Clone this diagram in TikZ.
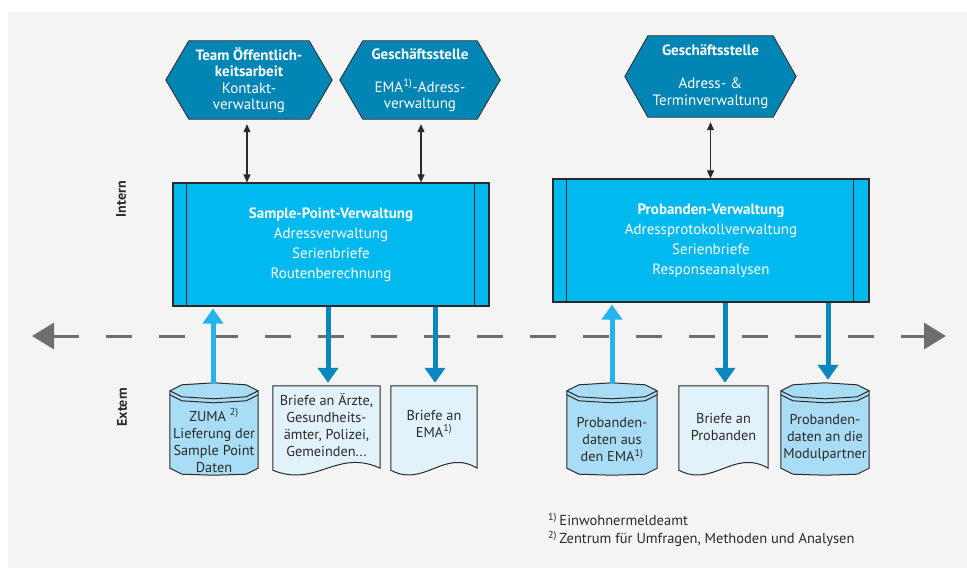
\documentclass[tikz,border=0pt]{standalone}
\usepackage{fontspec}
\setmainfont{PT Sans}
\usetikzlibrary{arrows.meta,calc,backgrounds}

\definecolor{bggray}{HTML}{F4F4F4}
\definecolor{hexblue}{HTML}{0085B5}
\definecolor{procblue}{HTML}{00B9EF}
\definecolor{upblue}{HTML}{22B4EA}
\definecolor{downblue}{HTML}{0A87BE}
\definecolor{cylblue}{HTML}{A8DDF5}
\definecolor{docblue}{HTML}{E1F2FB}
\definecolor{inkdark}{HTML}{2B2A29}
\definecolor{dashgray}{HTML}{6D6E71}

\tikzset{
  hexnode/.style={inner sep=0pt, text=white, align=center, font=\fontsize{15}{16.5}\selectfont},
  hexshape/.style={fill=hexblue, draw=inkdark, line width=0.8pt},
  procbox/.style={draw=inkdark, fill=procblue, line width=1.2pt, text=white, align=center,
                  font=\fontsize{15}{20}\selectfont, inner sep=0pt},
  procline/.style={draw=inkdark, line width=1pt},
  holder/.style={inner sep=0pt, draw=none},
  btext/.style={text=inkdark, align=center, font=\fontsize{14.3}{17}\selectfont, inner sep=0pt},
  shapeline/.style={draw=inkdark, line width=1pt},
  dblarrow/.style={draw=inkdark, line width=1.1pt, shorten <=5pt,
                   {Triangle[width=7pt,length=8pt]}-{Triangle[width=7pt,length=8pt]}},
  uparrow/.style={draw=upblue, line width=5pt, shorten >=2pt, -{Triangle[width=20pt,length=15pt]}},
  downarrow/.style={draw=downblue, line width=5pt, shorten >=3pt, -{Triangle[width=20pt,length=15pt]}},
  dashline/.style={draw=dashgray, line width=3pt, dash pattern=on 26pt off 27pt,
                   {Triangle[length=22pt,width=26pt]}-{Triangle[length=22pt,width=26pt]}},
  sidelabel/.style={rotate=90, text=inkdark, inner sep=0pt, font=\bfseries\fontsize{14}{16}\selectfont},
  fnote/.style={text=inkdark, align=left, inner sep=0pt, font=\fontsize{14.5}{18}\selectfont},
}

% elongated hexagon around a holder node
\newcommand\hexpath[1]{%
  \filldraw[hexshape] (#1.west) -- ($(#1.north west)+(23,0)$) -- ($(#1.north east)+(-23,0)$)
    -- (#1.east) -- ($(#1.south east)+(-23,0)$) -- ($(#1.south west)+(23,0)$) -- cycle;}

% data store drawn as a faceted cylinder
\newcommand\cylpath[1]{%
  \filldraw[fill=cylblue, shapeline]
    ($(#1.north west)+(0,8)$) -- ($(#1.north west)+(12,2)$) -- (#1.north)
    -- ($(#1.north east)+(-12,2)$) -- ($(#1.north east)+(0,8)$)
    -- ($(#1.south east)+(0,-7)$) -- ($(#1.south east)+(-12,-1)$) -- (#1.south)
    -- ($(#1.south west)+(12,-1)$) -- ($(#1.south west)+(0,-7)$) -- cycle;
  \draw[shapeline] ($(#1.north west)+(0,8)$) -- ($(#1.north west)+(12,14)$) -- ($(#1.north)+(0,16)$)
    -- ($(#1.north east)+(-12,14)$) -- ($(#1.north east)+(0,8)$);
  \draw[shapeline] ($(#1.north west)+(0,12)$) -- ($(#1.north west)+(12,18)$) -- ($(#1.north)+(0,20)$)
    -- ($(#1.north east)+(-12,18)$) -- ($(#1.north east)+(0,12)$);}

% document with a wavy lower edge
\newcommand\docpath[1]{%
  \filldraw[fill=docblue, shapeline] (#1.north west) -- (#1.north east) -- ($(#1.south east)+(0,-2)$)
    .. controls ($(#1.south)+(10,-22)$) and ($(#1.south)+(-10,18)$) .. (#1.south west) -- cycle;}

\begin{document}
\begin{tikzpicture}[x=1pt,y=-1pt]
\useasboundingbox (0,0) rectangle (967,568);

% management units
\node[hexnode, minimum width=166pt, minimum height=78pt] (team) at (249,80)
  {\textbf{Team Öffentlich-}\\\textbf{keitsarbeit}\\Kontakt-\\verwaltung};
\node[hexnode, minimum width=160pt, minimum height=78pt] (gs1) at (420,80)
  {\textbf{Geschäftsstelle}\\[16.5pt]EMA\textsuperscript{1)}-Adress-\\verwaltung};
\node[hexnode, minimum width=171pt, minimum height=81pt] (gs2) at (710.5,76.5)
  {\textbf{Geschäftsstelle}\\[16.5pt]Adress- \&\\Terminverwaltung};

% processes
\node[procbox, minimum width=316pt, minimum height=123pt] (spv) at (331,244.5)
  {\textbf{Sample-Point-Verwaltung}\\Adressverwaltung\\Serienbriefe\\Routenberechnung};
\node[procbox, minimum width=316pt, minimum height=123pt] (pv) at (711,240.5)
  {\textbf{Probanden-Verwaltung}\\Adressprotokollverwaltung\\Serienbriefe\\Responseanalysen};
\draw[procline] ($(spv.north west)+(14,0)$) -- ($(spv.south west)+(14,0)$);
\draw[procline] ($(spv.north east)+(-15,0)$) -- ($(spv.south east)+(-15,0)$);
\draw[procline] ($(pv.north west)+(14,0)$) -- ($(pv.south west)+(14,0)$);
\draw[procline] ($(pv.north east)+(-16,0)$) -- ($(pv.south east)+(-16,0)$);

% external stores and documents
\node[holder, minimum width=88pt, minimum height=92pt] (zuma) at (214,429) {};
\node[holder, minimum width=107pt, minimum height=84pt] (aerzte) at (326.5,428) {};
\node[holder, minimum width=86pt, minimum height=84pt] (emabrief) at (434,428) {};
\node[holder, minimum width=90pt, minimum height=92pt] (probaus) at (612,429) {};
\node[holder, minimum width=89pt, minimum height=84pt] (probbrief) at (723.5,428) {};
\node[holder, minimum width=88pt, minimum height=92pt] (modul) at (825,429) {};

\node[btext] (zumat) at (214,440.5) {ZUMA \textsuperscript{2)}\\Lieferung der\\Sample Point\\Daten};
\node[btext] (aerztet) at (326.5,425.5) {Briefe an Ärzte,\\Gesundheits-\\ämter, Polizei,\\Gemeinden...};
\node[btext] (emabrieft) at (434,423.5) {Briefe an\\EMA\textsuperscript{1)}};
\node[btext] (probaust) at (612,439.5) {Probanden-\\daten aus\\den EMA\textsuperscript{1)}};
\node[btext] (probbrieft) at (723.5,427.5) {Briefe an\\Probanden};
\node[btext] (modult) at (825,438) {Probanden-\\daten an die\\Modulpartner};

% side labels
\node[sidelabel] (intern) at (121,199) {Intern};
\node[sidelabel] (extern) at (122,407) {Extern};

% footnotes
\node[fnote, anchor=west] (fn) at (548,530)
  {\textsuperscript{1)}\,Einwohnermeldeamt\\\textsuperscript{2)}\,Zentrum für Umfragen, Methoden und Analysen};

% shapes behind the texts
\begin{scope}[on background layer]
  \fill[white] (0,0) rectangle (967,568);
  \fill[bggray] (8,12) rectangle (967,568);
  \hexpath{team}
  \hexpath{gs1}
  \hexpath{gs2}
  \cylpath{zuma}
  \docpath{aerzte}
  \docpath{emabrief}
  \cylpath{probaus}
  \docpath{probbrief}
  \cylpath{modul}
\end{scope}

% boundary between internal and external
\coordinate (dl) at (32,336);
\coordinate (dr) at (946,336);
\draw[dashline] (dl) -- (dr);

% connectors
\draw[dblarrow] ([xshift=-2pt]team.south) -- ([xshift=-2pt]team.south |- spv.north);
\draw[dblarrow] ([xshift=1pt]gs1.south) -- ([xshift=1pt]gs1.south |- spv.north);
\draw[dblarrow] (gs2.south) -- (gs2.south |- pv.north);

\draw[uparrow] ([xshift=-1pt]zuma.north) -- ([xshift=-1pt]zuma.north |- spv.south);
\draw[uparrow] (probaus.north) -- (probaus.north |- pv.south);
\draw[downarrow] ([xshift=1.5pt]aerzte.north |- spv.south) -- ([xshift=1.5pt]aerzte.north);
\draw[downarrow] ([xshift=1pt]emabrief.north |- spv.south) -- ([xshift=1pt]emabrief.north);
\draw[downarrow] ([xshift=1.5pt]probbrief.north |- pv.south) -- ([xshift=1.5pt]probbrief.north);
\draw[downarrow] ([xshift=3pt]modul.north |- pv.south) -- ([xshift=3pt]modul.north);
\end{tikzpicture}
\end{document}
